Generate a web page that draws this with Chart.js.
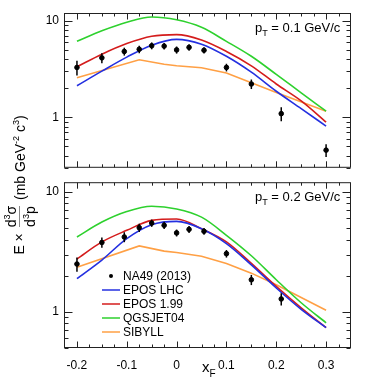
<!DOCTYPE html>
<html>
<head>
<meta charset="utf-8">
<script src="https://cdn.jsdelivr.net/npm/chart.js@4.4.1/dist/chart.umd.min.js"></script>
<style>
  html, body { margin: 0; padding: 0; background: #fff; }
  body { width: 382px; height: 383px; position: relative; overflow: hidden;
         font-family: "Liberation Sans", Arial, sans-serif; color: #000; }
  .panel { position: absolute; left: 0; width: 382px; }
  #topWrap { top: 0; height: 180px; }
  #botWrap { top: 170px; height: 213px; }
  .ptlabel { position: absolute; font-size: 13px; white-space: nowrap; }
  .ptlabel sub { font-size: 9px; vertical-align: -4px; }
  #xtitle { position: absolute; left: 202px; top: 358px; font-size: 15px; }
  #xtitle sub { font-size: 10px; vertical-align: -5px; }
  #ytitle { position: absolute; left: -76px; top: 169px; width: 190px; height: 32px;
            transform: rotate(-90deg); display: flex; align-items: center; justify-content: center;
            font-size: 14px; white-space: nowrap; }
  #ytitle sup { font-size: 9px; vertical-align: 6px; }
  .frac { display: inline-flex; flex-direction: column; align-items: center; line-height: 13px; margin: 0 2px; }
  .frac span:first-child { border-bottom: 1px solid #888; padding-bottom: 1px; }
</style>
</head>
<body>
<div id="topWrap" class="panel"><canvas id="topChart"></canvas></div>
<div id="botWrap" class="panel"><canvas id="botChart"></canvas></div>
<div class="ptlabel" style="left:255px; top:20px;">p<sub>T</sub> = 0.1 GeV/c</div>
<div class="ptlabel" style="left:255px; top:189px;">p<sub>T</sub> = 0.2 GeV/c</div>
<div id="xtitle">x<sub>F</sub></div>
<div id="ytitle"><span>E ×&nbsp;</span><span class="frac"><span>d<sup>3</sup>σ</span><span>d<sup>3</sup>p</span></span><span>&nbsp;(mb GeV<sup>-2</sup> c<sup>3</sup>)</span></div>

<script>
// NA49 (2013) measured points
const xData = [-0.2, -0.15, -0.105, -0.075, -0.05, -0.025, 0, 0.025, 0.055, 0.1, 0.15, 0.21, 0.3];
const naTop = [3.28, 4.12, 4.80, 5.06, 5.50, 5.45, 4.98, 5.29, 4.94, 3.28, 2.21, 1.09, 0.457];
const naTopErr = [0.57, 0.49, 0.45, 0.45, 0.45, 0.42, 0.42, 0.42, 0.38, 0.30, 0.25, 0.18, 0.07];
const xDataBot = [-0.2, -0.15, -0.105, -0.075, -0.05, -0.025, 0, 0.025, 0.055, 0.1, 0.15, 0.21];
const naBot = [2.50, 3.78, 4.20, 5.02, 5.48, 5.25, 4.54, 4.86, 4.68, 3.05, 1.85, 1.28];
const naBotErr = [0.34, 0.37, 0.40, 0.40, 0.38, 0.36, 0.30, 0.32, 0.30, 0.22, 0.18, 0.15];

// model curves
const xModel = [-0.2, -0.15, -0.1, -0.05, 0, 0.05, 0.1, 0.15, 0.2, 0.25, 0.3];
const eposLhcTop = [2.12, 3.00, 4.19, 5.58, 6.40, 5.71, 4.28, 2.93, 1.86, 1.23, 0.81];
const epos199Top = [3.33, 4.50, 5.80, 6.90, 7.17, 6.30, 4.80, 3.41, 2.21, 1.48, 0.893];
const qgsjetTop = [6.11, 7.85, 9.63, 10.9, 10.2, 8.53, 6.11, 4.28, 2.78, 1.79, 1.155];
const eposLhcBot = [1.89, 2.70, 4.07, 5.31, 5.66, 4.92, 3.70, 2.46, 1.58, 1.05, 0.738];
const epos199Bot = [2.75, 3.82, 4.77, 5.77, 5.92, 4.92, 3.82, 2.53, 1.63, 1.08, 0.738];
const qgsjetBot = [4.20, 5.59, 6.84, 7.57, 7.19, 6.14, 4.34, 2.93, 1.85, 1.19, 0.81];

const xSibyll = [-0.2, -0.075, -0.025, 0, 0.05, 0.1, 0.15, 0.2, 0.3];
const sibyllTop = [2.56, 3.94, 3.54, 3.41, 3.26, 2.87, 2.28, 1.80, 1.155];
const sibyllBot = [2.35, 3.54, 3.20, 3.12, 2.90, 2.53, 2.10, 1.68, 1.03];

const xTickLabels = [-0.2, -0.1, 0, 0.1, 0.2, 0.3];
const yTickLabels = [1, 10];

const FONT = "'Liberation Sans', Arial, sans-serif";
const COLORS = { lhc: '#2430e0', e199: '#d41c1c', qgs: '#2ed12e', sib: '#ffa045' };

const pairs = (xs, ys) => xs.map((x, i) => ({ x: x, y: ys[i] }));

// ROOT-style frame with inward ticks on all four sides
const rootFrame = {
    id: 'rootFrame',
    afterDraw(chart) {
        const { ctx, chartArea: a, scales: { x, y } } = chart;
        const L = a.left + 0.5, R = a.right - 0.5, T = a.top + 0.5, B = a.bottom - 0.5;
        ctx.save();
        ctx.strokeStyle = '#222';
        ctx.lineWidth = 1;
        ctx.beginPath();
        for (let k = -9; k <= 14; k++) {
            const v = k * 0.025;
            const px = Math.round(x.getPixelForValue(v)) + 0.5;
            if (px < a.left || px > a.right) continue;
            const len = (k % 4 === 0) ? 6 : 3;
            ctx.moveTo(px, B); ctx.lineTo(px, B - len);
            ctx.moveTo(px, T); ctx.lineTo(px, T + len);
        }
        [0.1, 1, 10].forEach(d => {
            for (let m = 1; m <= 9; m++) {
                const v = m * d;
                if (v < y.min || v > y.max) continue;
                const py = Math.round(y.getPixelForValue(v)) + 0.5;
                const len = (m === 1) ? 8 : 4;
                ctx.moveTo(L, py); ctx.lineTo(L + len, py);
                ctx.moveTo(R, py); ctx.lineTo(R - len, py);
            }
        });
        ctx.stroke();
        ctx.strokeRect(L, T, R - L, B - T);
        ctx.restore();
    }
};

// vertical error bars from dataset.errors
const errorBars = {
    id: 'errorBars',
    afterDatasetsDraw(chart) {
        const { ctx, scales: { y } } = chart;
        chart.data.datasets.forEach((ds, i) => {
            if (!ds.errors) return;
            const meta = chart.getDatasetMeta(i);
            ctx.save();
            ctx.strokeStyle = '#000';
            ctx.lineWidth = 1.5;
            meta.data.forEach((pt, j) => {
                const v = ds.data[j].y, e = ds.errors[j];
                ctx.beginPath();
                ctx.moveTo(pt.x, y.getPixelForValue(v + e));
                ctx.lineTo(pt.x, y.getPixelForValue(v - e));
                ctx.stroke();
            });
            ctx.restore();
        });
    }
};

// legend drawn inside the lower panel
const insideLegend = {
    id: 'insideLegend',
    afterDraw(chart) {
        if (!chart.options.plugins.insideLegend) return;
        const { ctx } = chart;
        const x0 = 102, y0 = 106, dy = 14;
        ctx.save();
        ctx.font = '12px ' + FONT;
        ctx.textBaseline = 'middle';
        ctx.fillStyle = '#000';
        chart.data.datasets.forEach((ds, i) => {
            const yy = y0 + i * dy;
            if (ds.errors) {
                ctx.beginPath();
                ctx.arc(x0 + 9, yy, 2, 0, Math.PI * 2);
                ctx.fill();
            } else {
                ctx.strokeStyle = ds.borderColor;
                ctx.lineWidth = 1.5;
                ctx.beginPath();
                ctx.moveTo(x0, yy); ctx.lineTo(x0 + 18, yy);
                ctx.stroke();
            }
            ctx.fillText(ds.label, x0 + 21, yy + 1);
        });
        ctx.restore();
    }
};

function makeDatasets(na, naErr, xNa, lhc, e199, qgs, sib) {
    const line = (label, color, xs, ys, smooth) => ({
        type: 'line', label: label, data: pairs(xs, ys),
        borderColor: color, borderWidth: 1.6, pointRadius: 0,
        cubicInterpolationMode: smooth ? 'monotone' : 'default', tension: 0
    });
    return [
        { type: 'scatter', label: 'NA49 (2013)', data: pairs(xNa, na), errors: naErr,
          backgroundColor: '#000', borderColor: '#000', pointRadius: 2.3, order: 0 },
        line('EPOS LHC', COLORS.lhc, xModel, lhc, true),
        line('EPOS 1.99', COLORS.e199, xModel, e199, true),
        line('QGSJET04', COLORS.qgs, xModel, qgs, true),
        line('SIBYLL', COLORS.sib, xSibyll, sib, false)
    ];
}

function makeChart(id, datasets, yMin, yMax, isBottom) {
    return new Chart(document.getElementById(id), {
        data: { datasets: datasets },
        options: {
            responsive: true,
            maintainAspectRatio: false,
            animation: false,
            events: [],
            layout: { padding: { top: isBottom ? 10 : 13, right: 31, left: 0, bottom: isBottom ? 0 : 6 } },
            plugins: { legend: { display: false }, tooltip: { enabled: false }, insideLegend: isBottom },
            scales: {
                x: {
                    type: 'linear', min: -0.226, max: 0.35,
                    grid: { display: false }, border: { display: false },
                    afterBuildTicks: s => { s.ticks = xTickLabels.map(v => ({ value: v })); },
                    afterFit: s => { s.height = isBottom ? 35 : 0; },
                    ticks: {
                        display: isBottom, autoSkip: false, maxRotation: 0, padding: 2,
                        color: '#000', font: { family: FONT, size: 12 },
                        callback: v => (Math.abs(v) < 1e-9 ? '0' : String(Math.round(v * 10) / 10))
                    }
                },
                y: {
                    type: 'logarithmic', min: yMin, max: yMax,
                    grid: { display: false, drawTicks: false }, border: { display: false },
                    afterBuildTicks: s => { s.ticks = yTickLabels.map(v => ({ value: v })); },
                    afterFit: s => { s.width = 64; },
                    ticks: {
                        padding: 5, color: '#000', font: { family: FONT, size: 12 },
                        callback: v => String(v)
                    }
                }
            }
        },
        plugins: [errorBars, rootFrame, insideLegend]
    });
}

makeChart('topChart', makeDatasets(naTop, naTopErr, xData, eposLhcTop, epos199Top, qgsjetTop, sibyllTop), 0.31, 12, false);
makeChart('botChart', makeDatasets(naBot, naBotErr, xDataBot, eposLhcBot, epos199Bot, qgsjetBot, sibyllBot), 0.5, 12, true);
</script>
</body>
</html>
